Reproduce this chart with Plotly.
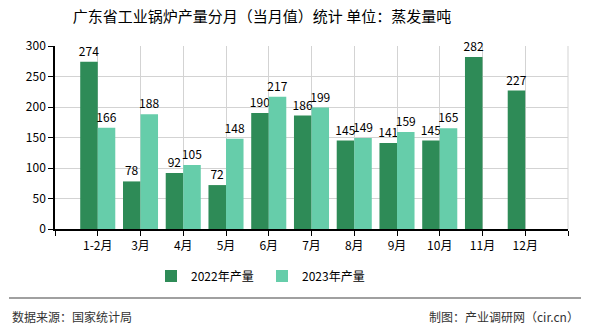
import plotly.graph_objects as go

categories = ["1-2月", "3月", "4月", "5月", "6月", "7月", "8月", "9月", "10月", "11月", "12月"]
values_2022 = [274, 78, 92, 72, 190, 186, 145, 141, 145, 282, 227]
values_2023 = [166, 188, 105, 148, 217, 199, 149, 159, 165, None, None]
y_ticks = [0, 50, 100, 150, 200, 250, 300]

FONT = "Noto Sans CJK SC, sans-serif"
W, H = 590, 330
L, R, T, B = 55, 22, 46, 101
pw, ph = W - L - R, H - T - B

def px_x(p):
    return (p - L) / pw

def px_y(p):
    return (H - B - p) / ph

fig = go.Figure()
fig.add_trace(go.Bar(
    x=list(range(len(categories))), y=values_2022, name="2022年产量",
    marker=dict(color="#2E8B57", line=dict(width=0)),
    text=[str(v) for v in values_2022], textposition="outside",
    constraintext="none",
    textfont=dict(size=12, color="#000000", family=FONT), cliponaxis=False,
))
fig.add_trace(go.Bar(
    x=list(range(len(categories))), y=values_2023, name="2023年产量",
    marker=dict(color="#66CDAA", line=dict(width=0)),
    text=["" if v is None else str(v) for v in values_2023], textposition="outside",
    constraintext="none",
    textfont=dict(size=12, color="#000000", family=FONT), cliponaxis=False,
))

fig.update_layout(
    width=W, height=H,
    margin=dict(l=L, r=R, t=T, b=B, pad=0),
    paper_bgcolor="white", plot_bgcolor="white",
    barmode="group", bargap=0.18, bargroupgap=0,
    font=dict(family=FONT, size=12, color="#000000"),
    title=dict(text="广东省工业锅炉产量分月（当月值）统计 单位：蒸发量吨",
               xref="paper", x=px_x(262), xanchor="center", y=1 - 17 / H, yanchor="middle",
               font=dict(size=15, color="#000000", family=FONT)),
    showlegend=True,
    legend=dict(orientation="h", x=px_x(262), xanchor="center",
                y=px_y(276), yanchor="middle",
                font=dict(size=12, family=FONT, color="#000000"),
                itemwidth=30, entrywidth=66, tracegroupgap=0),
    xaxis=dict(
        range=[-1, len(categories)],
        tickmode="array", tickvals=list(range(-1, len(categories) + 1)),
        ticktext=[""] + categories + [""],
        showgrid=True, gridcolor="#D3D3D3", gridwidth=1,
        showline=True, linecolor="#000000", linewidth=1.5,
        ticks="outside", ticklen=5, tickcolor="#000000",
        tickfont=dict(size=12, family=FONT), zeroline=False, mirror=False,
    ),
    yaxis=dict(
        range=[0, 300], tickmode="array", tickvals=y_ticks,
        showgrid=True, gridcolor="#D3D3D3", gridwidth=1,
        showline=True, linecolor="#000000", linewidth=1.5,
        ticks="outside", ticklen=5, tickcolor="#000000",
        tickfont=dict(size=12, family=FONT), zeroline=False,
    ),
    shapes=[
        dict(type="line", xref="paper", yref="paper",
             x0=px_x(9), x1=px_x(581), y0=px_y(298), y1=px_y(298),
             line=dict(color="#808080", width=1.5)),
        dict(type="line", xref="paper", yref="paper",
             x0=1, x1=1, y0=0, y1=1,
             line=dict(color="#D3D3D3", width=1)),
    ],
    annotations=[
        dict(text="数据来源：国家统计局", xref="paper", yref="paper",
             x=px_x(10), y=px_y(316), xanchor="left", yanchor="middle",
             showarrow=False, font=dict(size=12, color="#333333", family=FONT)),
        dict(text="制图：产业调研网（cir.cn）", xref="paper", yref="paper",
             x=px_x(581), y=px_y(316), xanchor="right", yanchor="middle",
             showarrow=False, font=dict(size=12, color="#333333", family=FONT)),
    ],
)

fig.write_html("out.html")
